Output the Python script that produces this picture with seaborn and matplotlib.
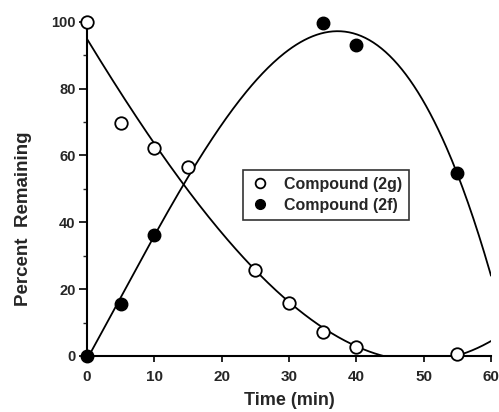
import numpy as np
import pandas as pd
import seaborn as sns
import matplotlib.pyplot as plt
from matplotlib.lines import Line2D

# measured points
time_2g = [0, 5, 10, 15, 25, 30, 35, 40, 55]
pct_2g = [100, 69.7, 62.3, 56.5, 25.8, 16.0, 7.1, 2.6, 0.5]
time_2f = [0, 5, 10, 35, 40, 55]
pct_2f = [0, 15.6, 36.3, 99.8, 93.1, 54.9]

x_ticks = [0, 10, 20, 30, 40, 50, 60]
y_ticks = [0, 20, 40, 60, 80, 100]

sns.set_style('ticks')
plt.rcParams['font.family'] = ['Liberation Sans', 'DejaVu Sans']
plt.rcParams['font.weight'] = 'bold'

fig = plt.figure(figsize=(4.99, 4.12), dpi=100)
ax = fig.add_axes([0.174, 0.136, 0.81, 0.811])

# fitted curves (cubic, as in the original)
tt = np.linspace(0, 60, 300)
fit_2g = np.polyval(np.polyfit(time_2g, pct_2g, 3), tt)
fit_2f = np.polyval(np.polyfit(time_2f, pct_2f, 3), tt)
curves = pd.DataFrame({'t': tt, 'g': fit_2g, 'f': fit_2f})
sns.lineplot(data=curves, x='t', y='g', color='black', lw=1.3, ax=ax)
sns.lineplot(data=curves, x='t', y='f', color='black', lw=1.3, ax=ax)

ax.plot(time_2g, pct_2g, 'o', ms=9, mfc='white', mec='black', mew=1.3,
        clip_on=False, zorder=5)
ax.plot(time_2f, pct_2f, 'o', ms=9, mfc='black', mec='black',
        clip_on=False, zorder=5)

ax.set_xlim(0, 60)
ax.set_ylim(0, 100)
ax.set_xticks(x_ticks)
ax.set_yticks(y_ticks)
ax.set_yticks(range(10, 100, 20), minor=True)
ax.tick_params(axis='x', labelsize=11, length=4, width=1.2, pad=6, color='black')
ax.tick_params(axis='y', labelsize=10.5, length=6, width=1.2, pad=2, color='black')
ax.tick_params(axis='y', which='minor', length=3, width=1)
for lab in ax.get_xticklabels() + ax.get_yticklabels():
    lab.set_fontweight('bold')
for s in ['left', 'bottom']:
    ax.spines[s].set_linewidth(1.5)
    ax.spines[s].set_color('black')
sns.despine(ax=ax)

ax.set_xlabel('Time (min)', fontsize=13, fontweight='bold', labelpad=6)
ax.set_ylabel('Percent  Remaining', fontsize=13.5, fontweight='bold')
ax.yaxis.set_label_coords(-0.135, 0.41)

handles = [
    Line2D([], [], ls='none', marker='o', ms=7, mfc='white', mec='black', mew=1.3),
    Line2D([], [], ls='none', marker='o', ms=7, mfc='black', mec='black'),
]
leg = ax.legend(handles, ['Compound (2g)', 'Compound (2f)'],
                loc='upper left', bbox_to_anchor=(0.386, 0.557),
                frameon=True, fancybox=False, edgecolor='black',
                prop={'weight': 'bold', 'size': 11.5}, handletextpad=0.9,
                borderpad=0.45, labelspacing=0.35, handlelength=1.2,
                borderaxespad=0)
leg.get_frame().set_linewidth(1.2)

fig.savefig('out.png', dpi=100)
